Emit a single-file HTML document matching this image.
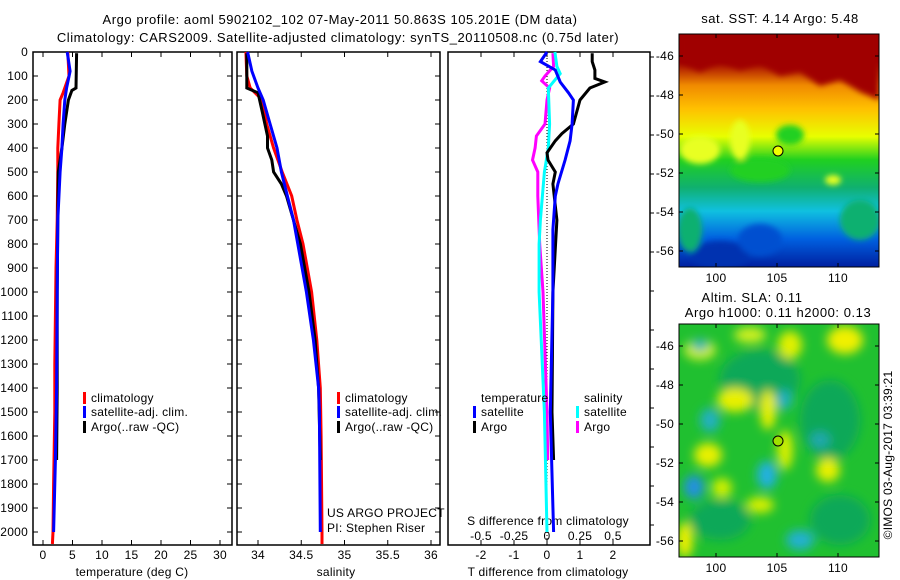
<!DOCTYPE html>
<html><head><meta charset="utf-8"><style>
html,body{margin:0;padding:0;background:#fff;}
svg{display:block;font-family:"Liberation Sans",sans-serif;}
text{font-size:12px;fill:#000;}
text.big{font-size:13px;letter-spacing:0.55px;}
text.mid{font-size:12px;letter-spacing:0.25px;}
</style></head><body>
<svg id="fig" width="900" height="580" viewBox="0 0 900 580" xmlns="http://www.w3.org/2000/svg">
<defs>
<linearGradient id="sstg" x1="0" y1="0" x2="0" y2="1">
<stop offset="0" stop-color="#a00000"/><stop offset="0.12" stop-color="#a00000"/>
<stop offset="0.22" stop-color="#f08a00"/><stop offset="0.32" stop-color="#ffc000"/>
<stop offset="0.44" stop-color="#e8ff00"/><stop offset="0.54" stop-color="#20d020"/>
<stop offset="0.66" stop-color="#10b070"/><stop offset="0.76" stop-color="#10c0e0"/>
<stop offset="0.88" stop-color="#0060e0"/><stop offset="1" stop-color="#0020a0"/>
</linearGradient>
<filter id="blur4"><feGaussianBlur stdDeviation="3"/></filter>
<filter id="blur6"><feGaussianBlur stdDeviation="5"/></filter>
<clipPath id="clipTop"><rect x="679" y="34" width="200" height="233"/></clipPath>
<clipPath id="clipBot"><rect x="679" y="324" width="200" height="233"/></clipPath>
</defs>
<text class="big" x="340" y="24" text-anchor="middle">Argo profile: aoml 5902102_102 07-May-2011 50.863S 105.201E (DM data)</text>
<text class="big" x="338" y="42" text-anchor="middle">Climatology: CARS2009. Satellite-adjusted climatology: synTS_20110508.nc (0.75d later)</text>
<g id="panels"></g>

<g>
<g clip-path="url(#clipTop)">
<rect x="679" y="34" width="200" height="233" fill="url(#sstg)"/>
<g filter="url(#blur4)">
<path d="M679 34 H879 V100 L860 92 L840 80 L820 86 L800 72 L780 76 L760 64 L740 70 L720 62 L700 72 L679 62 Z" fill="#a00000"/>
<ellipse cx="700" cy="150" rx="20" ry="14" fill="#e8ff20"/>
<ellipse cx="740" cy="140" rx="10" ry="20" fill="#e8ff20"/>
<ellipse cx="760" cy="170" rx="30" ry="12" fill="#20d020"/>
<ellipse cx="790" cy="135" rx="14" ry="10" fill="#20d020"/>
<ellipse cx="833" cy="180" rx="8" ry="5" fill="#e8ff20"/>
<ellipse cx="720" cy="255" rx="30" ry="14" fill="#0030b0"/>
<ellipse cx="760" cy="240" rx="22" ry="16" fill="#0050d0"/>
<ellipse cx="860" cy="220" rx="20" ry="20" fill="#10b070"/>
<ellipse cx="690" cy="230" rx="12" ry="22" fill="#10b070"/>
</g></g>
<rect x="679" y="34" width="200" height="233" fill="none" stroke="#000"/>
<circle cx="778" cy="151" r="5" fill="#f0ff00" stroke="#000"/>
<text class="big" x="780" y="23" text-anchor="middle">sat. SST: 4.14 Argo: 5.48</text>
</g>

<g>
<g clip-path="url(#clipBot)">
<rect x="679" y="324" width="200" height="233" fill="#20c030"/>
<g filter="url(#blur6)">
<ellipse cx="760" cy="380" rx="40" ry="30" fill="#10a858"/>
<ellipse cx="830" cy="420" rx="30" ry="40" fill="#10a858"/>
<ellipse cx="720" cy="520" rx="30" ry="20" fill="#10a858"/>
<ellipse cx="840" cy="520" rx="30" ry="25" fill="#10a858"/>
<ellipse cx="845" cy="340" rx="18" ry="14" fill="#f0f000"/>
<ellipse cx="790" cy="345" rx="12" ry="14" fill="#e0f000"/>
<ellipse cx="750" cy="335" rx="16" ry="8" fill="#d0f020"/>
<ellipse cx="700" cy="350" rx="16" ry="10" fill="#d0f020"/>
<ellipse cx="735" cy="400" rx="18" ry="12" fill="#e8f000"/>
<ellipse cx="768" cy="410" rx="8" ry="20" fill="#e8f000"/>
<ellipse cx="785" cy="450" rx="8" ry="20" fill="#d8f000"/>
<ellipse cx="708" cy="455" rx="14" ry="12" fill="#e8f000"/>
<ellipse cx="828" cy="470" rx="12" ry="12" fill="#e8f000"/>
<ellipse cx="760" cy="505" rx="14" ry="8" fill="#d8f000"/>
<ellipse cx="685" cy="540" rx="8" ry="18" fill="#f0f000"/>
<ellipse cx="722" cy="488" rx="10" ry="10" fill="#d0f000"/>
<ellipse cx="694" cy="487" rx="10" ry="12" fill="#2090e0"/>
<ellipse cx="767" cy="475" rx="10" ry="14" fill="#20b0e0"/>
<ellipse cx="710" cy="420" rx="10" ry="12" fill="#20b0c0"/>
<ellipse cx="784" cy="400" rx="8" ry="10" fill="#20b0c0"/>
<ellipse cx="800" cy="540" rx="14" ry="10" fill="#20b0d0"/>
<ellipse cx="700" cy="345" rx="8" ry="6" fill="#20b0c0"/>
<ellipse cx="820" cy="440" rx="10" ry="8" fill="#20a8b0"/>
</g></g>
<rect x="679" y="324" width="200" height="233" fill="none" stroke="#000"/>
<circle cx="778" cy="441" r="5" fill="#a0e000" stroke="#000"/>
<text class="big" x="752" y="302" text-anchor="middle">Altim. SLA: 0.11</text>
<text class="big" x="778" y="317" text-anchor="middle">Argo h1000: 0.11 h2000: 0.13</text>
</g>
<text class="mid" transform="translate(892,455) rotate(-90)" text-anchor="middle">©IMOS 03-Aug-2017 03:39:21</text>
<g id="mapaxes"></g>
</svg>
<script>
// ---- data ----
const depthTicks = [0,100,200,300,400,500,600,700,800,900,1000,1100,1200,1300,1400,1500,1600,1700,1800,1900,2000];
const tempTicks = [0,5,10,15,20,25,30];
const salTicks = [34,34.5,35,35.5,36];
const tdiffTicks = [-2,-1,0,1,2];
const sdiffTicks = [-0.5,-0.25,0,0.25,0.5];
const latTicks = [-46,-48,-50,-52,-54,-56];
const lonTicks = [100,105,110];

const tempClimDepth = [0,100,170,200,300,400,500,700,900,1300,1500,1800,2000,2050];
const tempClim      = [4.2,4.4,3.4,2.9,2.7,2.5,2.5,2.4,2.2,2.0,2.0,1.8,1.7,1.6];
const tempSatDepth = [0,80,150,200,300,400,500,700,1000,1400,1700,2000];
const tempSat      = [4.1,4.6,4.0,3.7,3.4,3.2,2.9,2.5,2.4,2.3,2.1,1.8];
const tempArgoDepth = [5,150,160,200,300,400,500,700,1000,1400,1700];
const tempArgo      = [5.7,5.6,4.9,4.3,3.7,3.2,2.6,2.5,2.4,2.4,2.3];

const salClimDepth = [0,100,150,200,300,400,500,600,700,800,1000,1200,1400,1600,2000,2050];
const salClim      = [33.86,33.87,33.91,34.05,34.1,34.18,34.28,34.39,34.45,34.52,34.62,34.68,34.72,34.73,34.74,34.74];
const salSatDepth = [0,80,150,200,300,400,500,600,700,800,1000,1200,1400,1500,2000];
const salSat      = [33.88,33.93,34.0,34.06,34.14,34.22,34.27,34.34,34.41,34.46,34.56,34.64,34.7,34.71,34.72];
const salArgoDepth = [5,150,170,250,300,350,400,450,500,550,600,800,1000,1200,1400,1700];
const salArgo      = [33.87,33.87,34.0,34.05,34.08,34.11,34.11,34.16,34.18,34.27,34.33,34.49,34.59,34.66,34.7,34.72];

const tdSatDepth = [0,40,75,125,170,200,300,370,450,550,600,740,1000,1500,2000];
const tdSat      = [0,-0.2,0.25,0.4,0.65,0.8,0.76,0.7,0.55,0.33,0.25,0.18,0.18,0.1,0.2];
const tdArgoDepth = [5,40,75,110,125,150,200,250,300,340,370,420,450,500,550,700,1000,1500,1700];
const tdArgo      = [1.37,1.37,1.45,1.45,1.75,1.3,1.0,0.9,0.8,0.45,0.25,0,0.03,0.25,0.18,0.3,0.18,0.15,0.2];
const sdSatDepth = [0,60,90,130,150,300,400,500,700,800,1000,1500,2000];
const sdSat      = [0.06,0.075,0.1,0.04,0.01,0.02,0.01,-0.02,-0.05,-0.06,-0.06,-0.02,0.0];
const sdArgoDepth = [5,60,100,120,150,200,300,350,400,450,500,600,800,1000,1500,1700];
const sdArgo      = [0.045,0.05,-0.015,-0.04,0.02,0.0,-0.015,-0.08,-0.09,-0.11,-0.07,-0.07,-0.055,-0.03,0.0,0.005];

// ---- axes ----
const Y0=52, PXD=0.24, BOT=545;
const yD = d => Y0 + d*PXD;
const xT = t => 43 + t*5.9;
const xS = s => 258 + (s-34)*86.5;
const xTD = v => 547 + v*33;
const xSD = v => 547 + v*132;
const NS='http://www.w3.org/2000/svg';
const root=document.getElementById('panels');
function el(tag, attrs, parent){const e=document.createElementNS(NS,tag);for(const k in attrs)e.setAttribute(k,attrs[k]);(parent||root).appendChild(e);return e;}
function txt(x,y,s,anchor,parent,cls){const t=el('text',{x:x,y:y,'text-anchor':anchor||'middle'},parent);if(cls)t.setAttribute('class',cls);t.textContent=s;return t;}

const panels=[[33,232],[237,440],[448,650]];
panels.forEach((p,i)=>{
  const g=el('g',{});
  
  
  const r=el('rect',{x:p[0],y:Y0,width:p[1]-p[0],height:BOT-Y0,fill:'none',stroke:'#000','stroke-width':1.5},g);
  
  
  if(i<2){depthTicks.forEach(d=>{el('line',{x1:p[0],x2:p[0]+5,y1:yD(d),y2:yD(d),stroke:'#000'},g);el('line',{x1:p[1],x2:p[1]-5,y1:yD(d),y2:yD(d),stroke:'#000'},g);});}
});
const dl=el('g',{});


depthTicks.forEach(d=>{txt(28,yD(d)+4,String(d),'end',dl,'mid');});
for(let y=57;y<=545;y+=39){el('line',{x1:650,x2:654,y1:y,y2:y,stroke:'#000'});}
function xaxis(ticks,fx,name,lbl,lx){
  const g=el('g',{});
  
  
  ticks.forEach(t=>{const x=fx(t);el('line',{x1:x,x2:x,y1:Y0,y2:Y0+5,stroke:'#000'},g);el('line',{x1:x,x2:x,y1:BOT,y2:BOT-5,stroke:'#000'},g);txt(x,559,String(t),'middle',g,'mid');});
  const l=txt(lx,576,lbl,'middle',g,'mid');
  
  
}
xaxis(tempTicks,xT,'x-axis-temperature','temperature (deg C)',132);
xaxis(salTicks,xS,'x-axis-salinity','salinity',336);
xaxis(tdiffTicks,xTD,'x-axis-t-difference','T difference from climatology',548);
const sg=el('g',{});


sdiffTicks.forEach(t=>{txt(xSD(t),540,String(t),'middle',sg,'mid');});
txt(548,525,'S difference from climatology','middle',sg,'mid');
el('line',{x1:547,x2:547,y1:Y0,y2:BOT,stroke:'#000','stroke-dasharray':'1,2'});

function line(ds,vs,fx,color,name,w){
  const pts=ds.map((d,i)=>fx(vs[i]).toFixed(1)+','+yD(d).toFixed(1)).join(' ');
  const pl=el('polyline',{points:pts,fill:'none',stroke:color,'stroke-width':w||3,'stroke-linejoin':'miter'});
  
  
}
line(tempClimDepth,tempClim,xT,'#ff0000','temp-climatology-line');
line(tempArgoDepth,tempArgo,xT,'#000000','temp-argo-line');
line(tempSatDepth,tempSat,xT,'#0000ff','temp-satellite-line');
line(salClimDepth,salClim,xS,'#ff0000','sal-climatology-line');
line(salArgoDepth,salArgo,xS,'#000000','sal-argo-line');
line(salSatDepth,salSat,xS,'#0000ff','sal-satellite-line');
line(sdArgoDepth,sdArgo,xSD,'#ff00ff','sdiff-argo-line');
line(sdSatDepth,sdSat,xSD,'#00ffff','sdiff-satellite-line');
line(tdArgoDepth,tdArgo,xTD,'#000000','tdiff-argo-line');
line(tdSatDepth,tdSat,xTD,'#0000ff','tdiff-satellite-line');

function leg(x,y,color,label,name){
  const g=el('g',{});
  
  
  el('rect',{x:x,y:y-10,width:3,height:12,fill:color},g);
  txt(x+8,y,label,'start',g,'mid');
}
leg(83,402,'#ff0000','climatology','legend-temp-climatology');
leg(83,416,'#0000ff','satellite-adj. clim.','legend-temp-satellite');
leg(83,431,'#000000','Argo(..raw -QC)','legend-temp-argo');
leg(337,402,'#ff0000','climatology','legend-sal-climatology');
leg(337,416,'#0000ff','satellite-adj. clim.','legend-sal-satellite');
leg(337,431,'#000000','Argo(..raw -QC)','legend-sal-argo');
txt(481,402,'temperature','start',null,'mid');
txt(584,402,'salinity','start',null,'mid');
leg(473,416,'#0000ff','satellite','legend-tdiff-satellite');
leg(473,431,'#000000','Argo','legend-tdiff-argo');
leg(576,416,'#00ffff','satellite','legend-sdiff-satellite');
leg(576,431,'#ff00ff','Argo','legend-sdiff-argo');
const pr=el('g',{});


txt(327,517,'US ARGO PROJECT','start',pr,'mid');
txt(327,532,'PI: Stephen Riser','start',pr,'mid');

const ma=document.getElementById('mapaxes');
[[34,267],[324,557]].forEach((m,k)=>{
  const g=el('g',{},ma);
  
  
  latTicks.forEach(la=>{const y=m[0]+22+(-46-la)*19.5;el('line',{x1:679,x2:683,y1:y,y2:y,stroke:'#000'},g);el('line',{x1:879,x2:875,y1:y,y2:y,stroke:'#000'},g);txt(674,y+4,String(la),'end',g,'mid');});
  lonTicks.forEach(lo=>{const x=716+(lo-100)*12.2;el('line',{x1:x,x2:x,y1:m[0],y2:m[0]+4,stroke:'#000'},g);el('line',{x1:x,x2:x,y1:m[1],y2:m[1]-4,stroke:'#000'},g);txt(x,m[1]+15,String(lo),'middle',g,'mid');});
});
</script>
</body></html>
